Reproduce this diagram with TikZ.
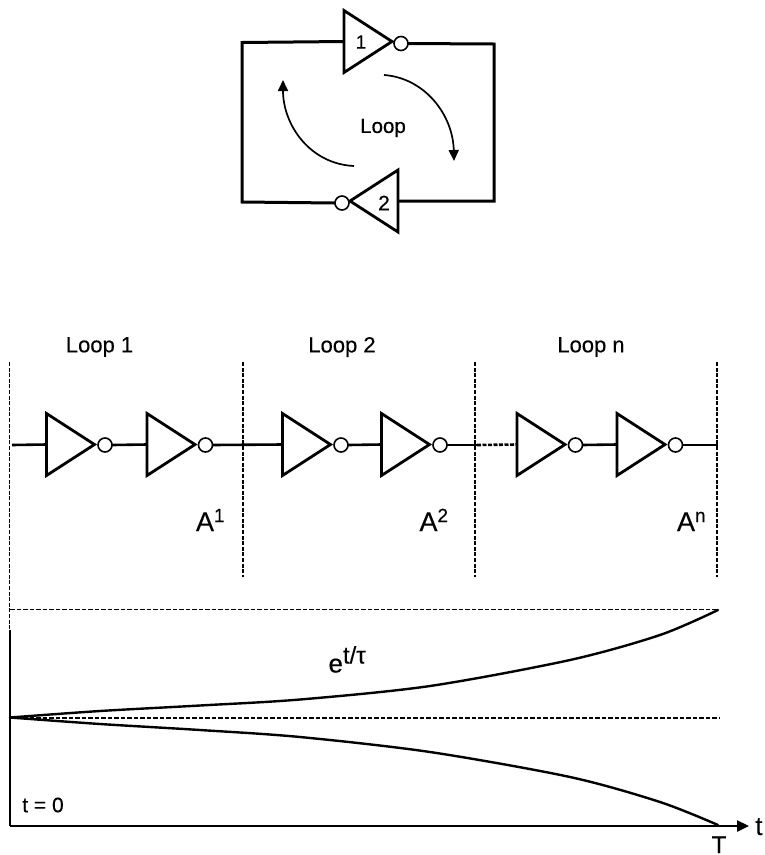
\documentclass[tikz,border=0pt]{standalone}
\usepackage{fontspec}
\setmainfont[FakeBold=0.3]{Liberation Sans}
\usetikzlibrary{shapes.geometric,arrows.meta}
\tikzset{
  inv/.style={isosceles triangle,isosceles triangle stretches,draw=black,line width=2.8pt,
     minimum width=62pt,minimum height=48pt,inner sep=0pt,outer sep=0pt},
  bub/.style={circle,draw=black,line width=1.6pt,fill=white,minimum size=14pt,inner sep=0pt,outer sep=0pt},
  wire/.style={line width=3pt,line join=miter},
  rowwire/.style={line width=2.6pt},
  divider/.style={line width=1.7pt,dash pattern=on 4pt off 1.6pt},
  level/.style={line width=1.7pt,dash pattern=on 4.5pt off 2pt},
  curveline/.style={line width=2.4pt,line cap=round},
  flow/.style={line width=1.7pt,-{Triangle[length=11pt,width=10pt]}},
  txt/.style={inner sep=0pt,outer sep=0pt,text=black},
}
\newcommand{\fs}[1]{\fontsize{#1pt}{#1pt}\selectfont}
\begin{document}
\begin{tikzpicture}[x=1pt,y=-1pt]
\useasboundingbox (0,0) rectangle (764,855);
% top loop
\node[inv,anchor=lower side] (t1) at (344,41.5) {};
\node[bub] (tb1) at (401,43.5) {};
\node[inv,shape border rotate=180,anchor=lower side] (t2) at (398,201) {};
\node[bub] (tb2) at (342,203) {};
\node[txt,font=\fs{19}] (tl1) at (361,42) {1};
\node[txt,font=\fs{21}] (tl2) at (384,203) {2};
\node[txt,font=\fs{20.5}] (tloop) at (383,128) {Loop};
\coordinate (c1) at (242,42.5);
\coordinate (c2) at (494,44);
\coordinate (c3) at (494,201);
\coordinate (c4) at (242,202);
\draw[wire] (t1.lower side) -- (c1) -- (c4) -- (tb2.west);
\draw[wire] (tb1.east) -- (c2) -- (c3) -- (t2.lower side);
\coordinate (f1a) at (384,75);
\coordinate (f1b) at (454,161);
\coordinate (f2a) at (354,166);
\coordinate (f2b) at (283,80);
\draw[flow] (f1a) .. controls (425,78) and (453,115) .. (f1b);
\draw[flow] (f2a) .. controls (310,164) and (283,125) .. (f2b);
% loop headers
\node[txt,font=\fs{22}] (h1) at (99.5,347) {Loop 1};
\node[txt,font=\fs{22}] (h2) at (342,347) {Loop 2};
\node[txt,font=\fs{22}] (h3) at (591,347) {Loop n};
% dividers
\coordinate (d0a) at (9.5,362);
\coordinate (d0b) at (9.5,630);
\coordinate (d1a) at (243,362);
\coordinate (d1b) at (243,577);
\coordinate (d2a) at (475,362);
\coordinate (d2b) at (475,577);
\coordinate (d3a) at (717,362);
\coordinate (d3b) at (717,577);
\draw[divider] (d0a) -- (d0b);
\draw[divider] (d1a) -- (d1b);
\draw[divider] (d2a) -- (d2b);
\draw[divider] (d3a) -- (d3b);
% inverter chain
\foreach \n/\x in {1/46.5,2/147,3/282.5,4/381.5,5/517,6/617}{
  \node[inv,anchor=lower side] (i\n) at (\x,444.5) {};
  \node[bub] (b\n) at (\x+58.5,445) {};
}
\coordinate (w0) at (12,445);
\coordinate (w1) at (477,445);
\coordinate (w2) at (718,445);
\draw[rowwire] (w0) -- (i1.lower side);
\draw[rowwire] (b1.east) -- (i2.lower side);
\draw[rowwire] (b2.east) -- (i3.lower side);
\draw[rowwire] (b3.east) -- (i4.lower side);
\draw[rowwire] (b4.east) -- (w1);
\draw[rowwire,dash pattern=on 4pt off 1.5pt] (w1) -- (i5.lower side);
\draw[rowwire] (b5.east) -- (i6.lower side);
\draw[rowwire] (b6.east) -- (w2);
% gain labels
\node[txt,anchor=base west,font=\fs{27}] (a1) at (196,531) {A\raisebox{9pt}{\fs{19}1}};
\node[txt,anchor=base west,font=\fs{27}] (a2) at (419.5,531) {A\raisebox{9pt}{\fs{19}2}};
\node[txt,anchor=base west,font=\fs{27}] (a3) at (677,531) {A\raisebox{9pt}{\fs{19}n}};
% plot
\coordinate (o) at (10,826);
\coordinate (v) at (10,630);
\coordinate (xe) at (749,826);
\coordinate (l1a) at (10,609.5);
\coordinate (l1b) at (718,609.5);
\coordinate (l2a) at (10,718);
\coordinate (l2b) at (720,718);
\draw[level] (l1a) -- (l1b);
\draw[level] (l2a) -- (l2b);
\draw[line width=2.2pt] (v) -- (o);
\draw[line width=2.4pt,-{Triangle[length=12pt,width=11pt]}] (o) -- (xe);
\draw[curveline] plot[smooth,tension=0.5] coordinates {(10,717.5) (100,711) (200,705.5) (300,699.5) (430,686) (570,660) (660,635) (718,610)};
\draw[curveline] plot[smooth,tension=0.5] coordinates {(10,717.5) (100,724) (200,730) (300,737) (430,752) (570,777) (660,802) (718,825)};
% plot labels
\node[txt,anchor=base west,font=\fs{26}] (e) at (328.5,672.5) {e\raisebox{9pt}{\fs{24}t/τ}};
\node[txt,font=\fs{21}] (t0) at (43,805) {t = 0};
\node[txt,anchor=base,font=\fs{24}] (tt) at (719,853) {T};
\node[txt,anchor=base,font=\fs{26}] (tx) at (759,835) {t};
\end{tikzpicture}
\end{document}
